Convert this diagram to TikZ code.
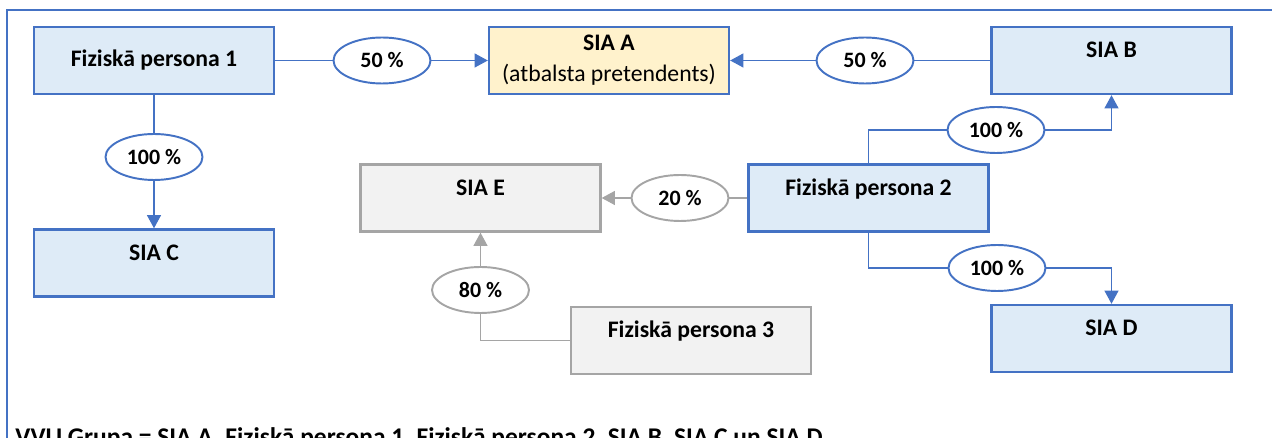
\documentclass[tikz,border=0pt]{standalone}
\usepackage{fontspec}
\setmainfont{Carlito}
\usetikzlibrary{arrows.meta,shapes.geometric}
\definecolor{boxblue}{HTML}{4472C4}
\definecolor{fillblue}{HTML}{DEEBF7}
\definecolor{fillyellow}{HTML}{FFF2CC}
\definecolor{boxgrey}{HTML}{A5A5A5}
\definecolor{fillgrey}{HTML}{F2F2F2}
\begin{document}
\begin{tikzpicture}[x=0.02cm,y=-0.02cm,
    font=\fontsize{13.5}{17.6}\selectfont,
    entity/.style={draw=boxblue, fill=fillblue, line width=1.4pt,
      minimum width=4.8cm, minimum height=1.34cm, font=\fontsize{13.5}{17.6}\selectfont\bfseries},
    highbox/.style={entity, inner ysep=0pt, text height=0.62cm, text depth=0.72cm},
    greybox/.style={highbox, draw=boxgrey, fill=fillgrey},
    share/.style={ellipse, draw=boxblue, fill=white, line width=1.1pt,
      minimum width=1.94cm, minimum height=0.92cm, inner sep=0pt,
      font=\fontsize{12.5}{15}\selectfont\bfseries},
    greyshare/.style={share, draw=boxgrey},
    link/.style={draw=boxblue, line width=0.6pt},
    greylink/.style={draw=boxgrey, line width=0.6pt},
    tip/.style={-{Triangle[length=7.5pt,width=8pt]}}]
  \useasboundingbox (0,0) rectangle (1272,438);
  \draw[boxblue, line width=0.8pt] (7,460) -- (7,10) -- (1300,10);
  \node[entity] (fp1) at (154,60.5) {Fiziskā persona 1};
  \node[entity, fill=fillyellow, align=center] (siaA) at (609,60.5)
    {SIA A\\\mdseries (atbalsta pretendents)};
  \node[highbox] (siaB) at (1111.5,60.5) {SIA B};
  \node[highbox] (siaC) at (154,263) {SIA C};
  \node[greybox] (siaE) at (480.5,198) {SIA E};
  \node[highbox] (fp2) at (868.5,198) {Fiziskā persona 2};
  \node[greybox] (fp3) at (691,340.5) {Fiziskā persona 3};
  \node[highbox] (siaD) at (1111.5,338.5) {SIA D};
  \node[share] (pA1) at (382,60.5) {50 \%};
  \node[share] (pA2) at (865,60.5) {50 \%};
  \node[share] (pC) at (154,157) {100 \%};
  \node[share] (pB) at (996,130) {100 \%};
  \node[share] (pD) at (997,268) {100 \%};
  \node[greyshare] (pE2) at (680,198) {20 \%};
  \node[greyshare] (pE3) at (480.5,290) {80 \%};
  \begin{scope}[link]
    \draw (fp1) -- (pA1);
    \draw[tip] (pA1) -- (siaA);
    \draw (siaB) -- (pA2);
    \draw[tip] (pA2) -- (siaA);
    \draw (fp1) -- (pC);
    \draw[tip] (pC) -- (siaC);
    \draw (fp2.north) |- (pB);
    \draw[tip] (pB) -| (siaB);
    \draw (fp2.south) |- (pD);
    \draw[tip] (pD) -| (siaD);
  \end{scope}
  \begin{scope}[greylink]
    \draw (fp2) -- (pE2);
    \draw[tip] (pE2) -- (siaE);
    \draw (fp3) -| (pE3);
    \draw[tip] (pE3) -- (siaE);
  \end{scope}
  \node[anchor=base west, inner xsep=0pt, font=\fontsize{14.5}{17.6}\selectfont\bfseries] (group) at (15,446)
    {VVU Grupa = SIA A, Fiziskā persona 1, Fiziskā persona 2, SIA B, SIA C un SIA D};
\end{tikzpicture}
\end{document}
